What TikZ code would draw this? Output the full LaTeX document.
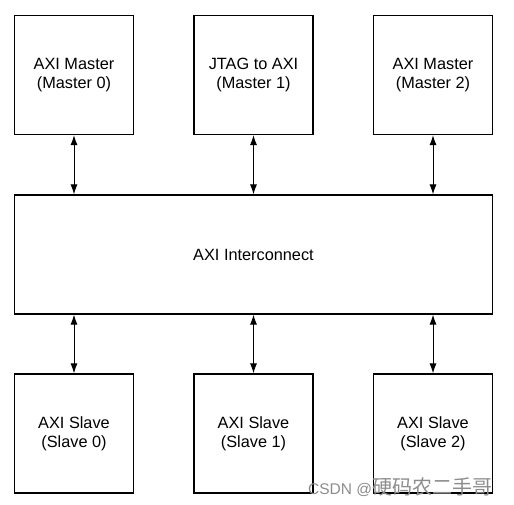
\documentclass[tikz,border=0pt]{standalone}
\usepackage{fontspec}
\setmainfont{Liberation Sans}
\newfontfamily\cjk{Noto Sans CJK SC}
\usetikzlibrary{arrows.meta}
\begin{document}
\begin{tikzpicture}[x=1pt,y=-1pt,
  blk/.style={draw=black,line width=1.2pt,fill=white,inner sep=0pt,align=center,
    font=\fontsize{16.3}{19}\selectfont},
  link/.style={line width=1pt,{Latex[length=10pt,width=7pt]}-{Latex[length=10pt,width=7pt]}}]
\useasboundingbox (0,0) rectangle (514,505);
\node[blk,minimum width=119pt,minimum height=119pt] (m0) at (74,75) {AXI Master\\(Master 0)};
\node[blk,minimum width=119pt,minimum height=119pt] (m1) at (253.5,75) {JTAG to AXI\\(Master 1)};
\node[blk,minimum width=119pt,minimum height=119pt] (m2) at (433,75) {AXI Master\\(Master 2)};
\node[blk,minimum width=478pt,minimum height=119pt] (ic) at (253.5,254.5) {AXI Interconnect};
\node[blk,minimum width=119pt,minimum height=119pt] (s0) at (74,433.5) {AXI Slave\\(Slave 0)};
\node[blk,minimum width=119pt,minimum height=119pt] (s1) at (253.5,433.5) {AXI Slave\\(Slave 1)};
\node[blk,minimum width=119pt,minimum height=119pt] (s2) at (433,433.5) {AXI Slave\\(Slave 2)};
\draw[link] (m0.south) -- (m0.south |- ic.north);
\draw[link] (m1.south) -- (m1.south |- ic.north);
\draw[link] (m2.south) -- (m2.south |- ic.north);
\draw[link] (s0.north |- ic.south) -- (s0.north);
\draw[link] (s1.north |- ic.south) -- (s1.north);
\draw[link] (s2.north |- ic.south) -- (s2.north);
\node[anchor=base west,inner sep=0pt,text=black!45,font=\fontsize{15.5}{18}\selectfont] (wm) at (308,494) {CSDN @{\fontsize{20}{22}\selectfont\cjk 硬码农二手哥}};
\end{tikzpicture}
\end{document}
